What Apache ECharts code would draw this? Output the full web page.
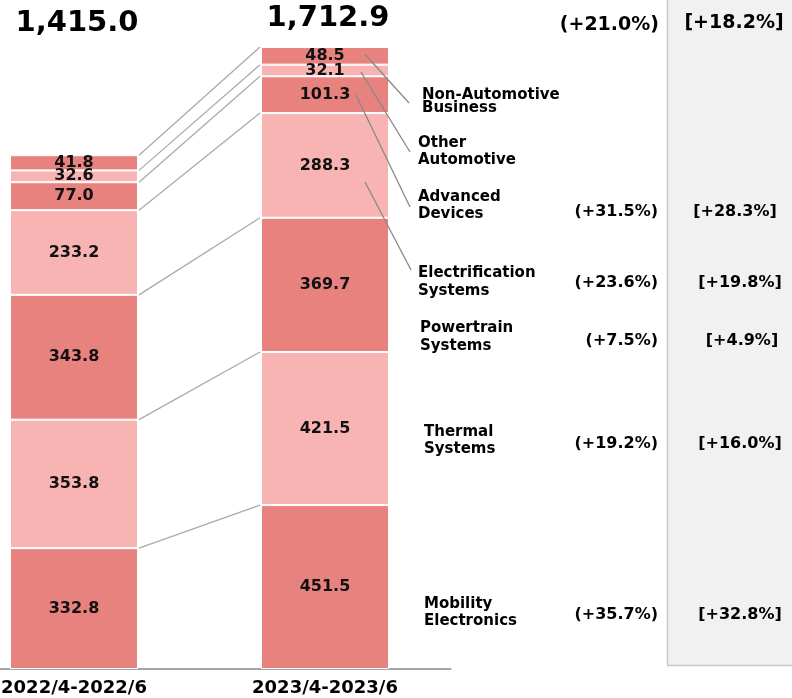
<!DOCTYPE html>
<html>
<head>
<meta charset="utf-8">
<script src="https://cdn.jsdelivr.net/npm/echarts@6/dist/echarts.min.js"></script>
<style>
  html, body { margin: 0; padding: 0; background: #fff; }
  #chart { width: 792px; height: 698px; }
</style>
</head>
<body>
<div id="chart"></div>
<script>
// ---------------------------------------------------
// Data
// ---------------------------------------------------
const periods = ["2022/4-2022/6", "2023/4-2023/6"];
const segments = [
  "Mobility Electronics",
  "Thermal Systems",
  "Powertrain Systems",
  "Electrification Systems",
  "Advanced Devices",
  "Other Automotive",
  "Non-Automotive Business"
];
// values per segment, [2022, 2023]
const mobility = [332.8, 451.5];
const thermal = [353.8, 421.5];
const powertrain = [343.8, 369.7];
const electrification = [233.2, 288.3];
const advanced = [77.0, 101.3];
const otherAuto = [32.6, 32.1];
const nonAuto = [41.8, 48.5];
const totals = ["1,415.0", "1,712.9"];

const yoyChange = ["(+35.7%)", "(+19.2%)", "(+7.5%)", "(+23.6%)", "(+31.5%)", "", ""];
const yoyAdjusted = ["[+32.8%]", "[+16.0%]", "[+4.9%]", "[+19.8%]", "[+28.3%]", "", ""];
const totalChange = "(+21.0%)";
const totalAdjusted = "[+18.2%]";

const segmentValues = [mobility, thermal, powertrain, electrification, advanced, otherAuto, nonAuto];

// ---------------------------------------------------
// Layout / style
// ---------------------------------------------------
const FONT = "DejaVu Sans";
const DARK = "#E8827F";
const LIGHT = "#F8B4B3";
const BAR_W = 128;

// label block positions (left x, first-line middle y, line height)
const segLabelPos = [
  [424, 604, 17],
  [424, 432, 17],
  [420, 328, 18],
  [418, 273, 18],
  [418, 197, 17],
  [418, 143, 17],
  [422, 95, 13]
];
const pctY = [615, 444, 341, 283, 212];
const bracketX = [740, 740, 742, 740, 735];

// leader lines: start = [value on 2023 bar, px offset from bar centre], end = label px
const leaders = [
  { seg: 6, value: 1693, dx: 40, end: [409, 103] },
  { seg: 5, value: 1644, dx: 36, end: [410, 152] },
  { seg: 4, value: 1581, dx: 31, end: [410, 207] },
  { seg: 3, value: 1341, dx: 40, end: [411, 270] }
];

// cumulative tops for connector lines
const cumulative = [];
(function () {
  let a = 0, b = 0;
  segmentValues.forEach(v => {
    a += v[0];
    b += v[1];
    cumulative.push([a, b]);
  });
})();

const chart = echarts.init(document.getElementById("chart"));

const barSeries = segmentValues.map((vals, i) => ({
  name: segments[i],
  type: "bar",
  stack: "total",
  barWidth: BAR_W,
  data: vals,
  itemStyle: {
    color: i % 2 === 0 ? DARK : LIGHT,
    borderColor: "#fff",
    borderWidth: 1
  },
  label: {
    show: true,
    position: "inside",
    formatter: p => p.value.toFixed(1),
    fontFamily: FONT,
    fontWeight: "bold",
    fontSize: 16,
    color: "#111"
  },
  z: 3
}));

// connector lines between the two bars
const connectorSeries = {
  type: "custom",
  data: cumulative,
  silent: true,
  z: 1,
  renderItem: (params, api) => {
    const p1 = api.coord([0, api.value(0)]);
    const p2 = api.coord([1, api.value(1)]);
    return {
      type: "line",
      shape: {
        x1: p1[0] + BAR_W / 2 + 1, y1: p1[1],
        x2: p2[0] - BAR_W / 2 - 1, y2: p2[1]
      },
      style: { stroke: "#aaaaaa", lineWidth: 1.3 }
    };
  }
};

// leader lines from 2023 bar to segment names
const leaderSeries = {
  type: "custom",
  data: leaders.map(l => [l.value, l.dx, l.end[0], l.end[1]]),
  silent: true,
  z: 5,
  renderItem: (params, api) => {
    const p = api.coord([1, api.value(0)]);
    return {
      type: "line",
      shape: {
        x1: p[0] + api.value(1), y1: p[1],
        x2: api.value(2), y2: api.value(3)
      },
      style: { stroke: "#888888", lineWidth: 1.3 }
    };
  }
};

// ---------------------------------------------------
// Annotation texts
// ---------------------------------------------------
const graphics = [
  {
    type: "rect",
    shape: { x: 667.5, y: -2, width: 130, height: 667.5 },
    style: { fill: "#f1f1f1", stroke: "#c8c8c8", lineWidth: 1.5 },
    z: -1
  },
  {
    type: "text", x: 77, y: 23,
    style: { text: totals[0], font: `bold 29px "${FONT}"`, fill: "#000", align: "center", verticalAlign: "middle" }
  },
  {
    type: "text", x: 328, y: 18,
    style: { text: totals[1], font: `bold 29px "${FONT}"`, fill: "#000", align: "center", verticalAlign: "middle" }
  },
  {
    type: "text", x: 659, y: 25,
    style: { text: totalChange, font: `bold 19px "${FONT}"`, fill: "#000", align: "right", verticalAlign: "middle" }
  },
  {
    type: "text", x: 734, y: 23,
    style: { text: totalAdjusted, font: `bold 19px "${FONT}"`, fill: "#000", align: "center", verticalAlign: "middle" }
  }
];

segments.forEach((name, i) => {
  const [x, y, lh] = segLabelPos[i];
  const words = name.split(" ");
  const text = words.length > 2 ? words[0] + "\n" + words.slice(1).join(" ") : words.join("\n");
  graphics.push({
    type: "text", x: x, y: y - lh / 2,
    style: {
      text: text,
      font: `bold 15px "${FONT}"`,
      lineHeight: lh,
      fill: "#000",
      align: "left",
      verticalAlign: "top"
    }
  });
});

yoyChange.forEach((t, i) => {
  if (!t) return;
  graphics.push({
    type: "text", x: 658, y: pctY[i],
    style: { text: t, font: `bold 16px "${FONT}"`, fill: "#000", align: "right", verticalAlign: "middle" }
  });
  graphics.push({
    type: "text", x: bracketX[i], y: pctY[i],
    style: { text: yoyAdjusted[i], font: `bold 16px "${FONT}"`, fill: "#000", align: "center", verticalAlign: "middle" }
  });
});

// ---------------------------------------------------
// Chart
// ---------------------------------------------------
chart.setOption({
  animation: false,
  grid: {
    left: -51.5, top: 15.4, width: 502, height: 653.6,
    outerBoundsMode: "none",
    containLabel: false
  },
  xAxis: {
    type: "category",
    data: periods,
    axisLine: { lineStyle: { color: "#a6a6a6", width: 2 } },
    axisTick: { show: false },
    axisLabel: {
      fontFamily: FONT,
      fontWeight: "bold",
      fontSize: 18,
      color: "#000",
      margin: 10
    }
  },
  yAxis: {
    type: "value",
    min: 0,
    max: 1800,
    show: false,
    splitLine: { show: false }
  },
  series: [...barSeries, connectorSeries, leaderSeries],
  graphic: graphics
});
</script>
</body>
</html>
